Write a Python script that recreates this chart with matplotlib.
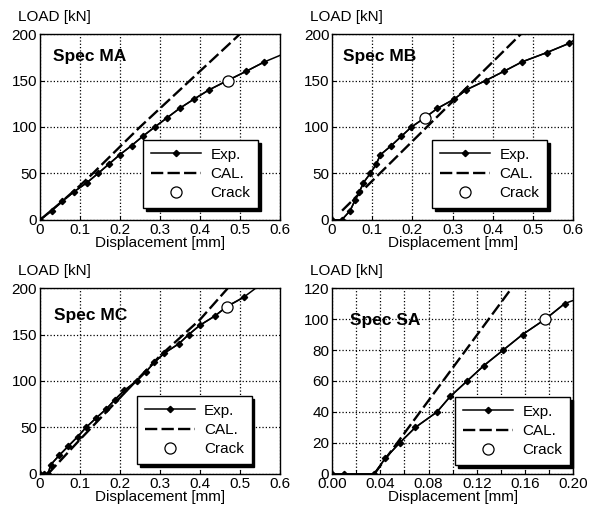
import numpy as np
import matplotlib
matplotlib.use('Agg')
import matplotlib.pyplot as plt
from matplotlib.lines import Line2D
from matplotlib.ticker import MultipleLocator, FormatStrFormatter

plt.rcParams['font.family'] = ['Liberation Sans', 'DejaVu Sans']
plt.rcParams['font.size'] = 11

# Spec MA
ma_exp_x = [0, 0.029, 0.055, 0.084, 0.117, 0.145, 0.172, 0.199, 0.229, 0.257,
            0.287, 0.318, 0.349, 0.385, 0.423, 0.469, 0.516, 0.561, 0.60]
ma_exp_y = [0, 10, 20, 30, 40, 50, 60, 70, 80, 90,
            100, 110, 120, 130, 140, 150, 160, 170, 177]
ma_cal_x = [0, 0.05, 0.10, 0.132, 0.25, 0.5]
ma_cal_y = [0, 18, 37, 50, 100, 200]
ma_crack = (0.469, 150)

# Spec MB
mb_exp_x = [0, 0.024, 0.045, 0.058, 0.068, 0.078, 0.095, 0.110, 0.120, 0.1475,
            0.1725, 0.1975, 0.231, 0.262, 0.304, 0.334, 0.3825, 0.428, 0.4725,
            0.534, 0.59, 0.60]
mb_exp_y = [0, 0, 10, 22, 30, 40, 50, 60, 70, 80,
            90, 100, 110, 120, 130, 140, 150, 160, 170,
            180, 190, 193]
mb_cal_x = [0.025, 0.47]
mb_cal_y = [10, 200]
mb_crack = (0.231, 110)

# Spec MC
mc_exp_x = [0, 0.01, 0.02, 0.027, 0.048, 0.071, 0.094, 0.115, 0.14, 0.166,
            0.1875, 0.211, 0.242, 0.265, 0.286, 0.311, 0.347, 0.372, 0.400,
            0.4375, 0.467, 0.509, 0.54]
mc_exp_y = [0, 0, 0, 10, 20, 30, 40, 50, 60, 70,
            80, 90, 100, 110, 120, 130, 140, 150, 160,
            170, 180, 190, 200]
mc_cal_x = [0.02, 0.1, 0.2, 0.3, 0.4, 0.47]
mc_cal_y = [0, 37, 82, 127, 166, 200]
mc_crack = (0.467, 180)

# Spec SA
sa_exp_x = [0, 0.01, 0.035, 0.044, 0.056, 0.069, 0.087, 0.098, 0.112, 0.126,
            0.142, 0.158, 0.177, 0.193, 0.20]
sa_exp_y = [0, 0, 0, 10, 20, 30, 40, 50, 60, 70,
            80, 90, 100, 110, 112]
sa_cal_x = [0.035, 0.149]
sa_cal_y = [0, 120]
sa_crack = (0.177, 100)

fig = plt.figure(figsize=(5.94, 5.08), dpi=100)


def panel(rect, exp_x, exp_y, cal_x, cal_y, crack, name, xmax, xstep, ymax, ystep,
          xfmt, leg_at, name_at, xgrid=None):
    ax = fig.add_axes(rect)
    ax.plot(exp_x, exp_y, color='k', lw=1.1, zorder=3)
    ax.plot(exp_x[:-1], exp_y[:-1], color='k', lw=1.1, marker='D', ms=3.2, zorder=3)
    ax.plot(cal_x, cal_y, color='k', lw=1.7, ls=(0, (5.2, 1.8)), zorder=2)
    ax.plot(*crack, marker='o', ms=8, mfc='white', mec='k', mew=0.9, ls='none', zorder=4)

    ax.set_xlim(0, xmax)
    ax.set_ylim(0, ymax)
    ax.xaxis.set_major_locator(MultipleLocator(xstep))
    ax.yaxis.set_major_locator(MultipleLocator(ystep))
    ax.xaxis.set_major_formatter(FormatStrFormatter(xfmt))
    ax.yaxis.set_major_formatter(FormatStrFormatter('%g'))
    if xgrid:
        ax.xaxis.set_minor_locator(MultipleLocator(xgrid))
        ax.grid(True, which='minor', axis='x', color='k', ls=':', lw=0.9)
    ax.grid(True, which='major', color='k', ls=':', lw=0.9)
    ax.tick_params(which='both', direction='in', length=3, width=0.8, pad=2, labelsize=11)
    for s in ax.spines.values():
        s.set_linewidth(1.0)

    ax.text(-0.09, 1.055, 'LOAD [kN]', transform=ax.transAxes, ha='left', va='bottom')
    ax.set_xlabel('Displacement [mm]', fontsize=11)
    ax.xaxis.set_label_coords(0.5, -0.086)
    ax.text(name_at[0], name_at[1], name, transform=ax.transAxes, fontsize=12.5,
            fontweight='bold', ha='left', va='center')

    handles = [
        Line2D([], [], color='k', lw=1.1, marker='D', ms=3.2),
        Line2D([], [], color='k', lw=1.7, ls=(0, (5.2, 1.8))),
        Line2D([], [], marker='o', ms=8, mfc='white', mec='k', mew=0.9, ls='none'),
    ]
    leg = ax.legend(handles, ['Exp.', 'CAL.', 'Crack'], loc='upper left',
                    bbox_to_anchor=leg_at, borderaxespad=0, fancybox=False,
                    edgecolor='k', framealpha=1, handlelength=3.3, handletextpad=0.6,
                    labelspacing=0.35, borderpad=0.5, fontsize=11,
                    shadow={'color': 'k', 'alpha': 1})
    leg.get_frame().set_linewidth(1.0)
    leg.set_zorder(5)
    return ax


panel([0.0673, 0.567, 0.404, 0.366], ma_exp_x, ma_exp_y, ma_cal_x, ma_cal_y, ma_crack,
      'Spec MA', 0.6, 0.1, 200, 50, '%g', (0.43, 0.43), (0.056, 0.88))
panel([0.559, 0.567, 0.406, 0.366], mb_exp_x, mb_exp_y, mb_cal_x, mb_cal_y, mb_crack,
      'Spec MB', 0.6, 0.1, 200, 50, '%g', (0.415, 0.43), (0.047, 0.88))
panel([0.0673, 0.067, 0.404, 0.366], mc_exp_x, mc_exp_y, mc_cal_x, mc_cal_y, mc_crack,
      'Spec MC', 0.6, 0.1, 200, 50, '%g', (0.404, 0.419), (0.06, 0.851))
panel([0.559, 0.067, 0.406, 0.366], sa_exp_x, sa_exp_y, sa_cal_x, sa_cal_y, sa_crack,
      'Spec SA', 0.2, 0.04, 120, 20, '%.2f', (0.51, 0.414), (0.075, 0.824), xgrid=0.02)

fig.savefig('out.png', dpi=100)
